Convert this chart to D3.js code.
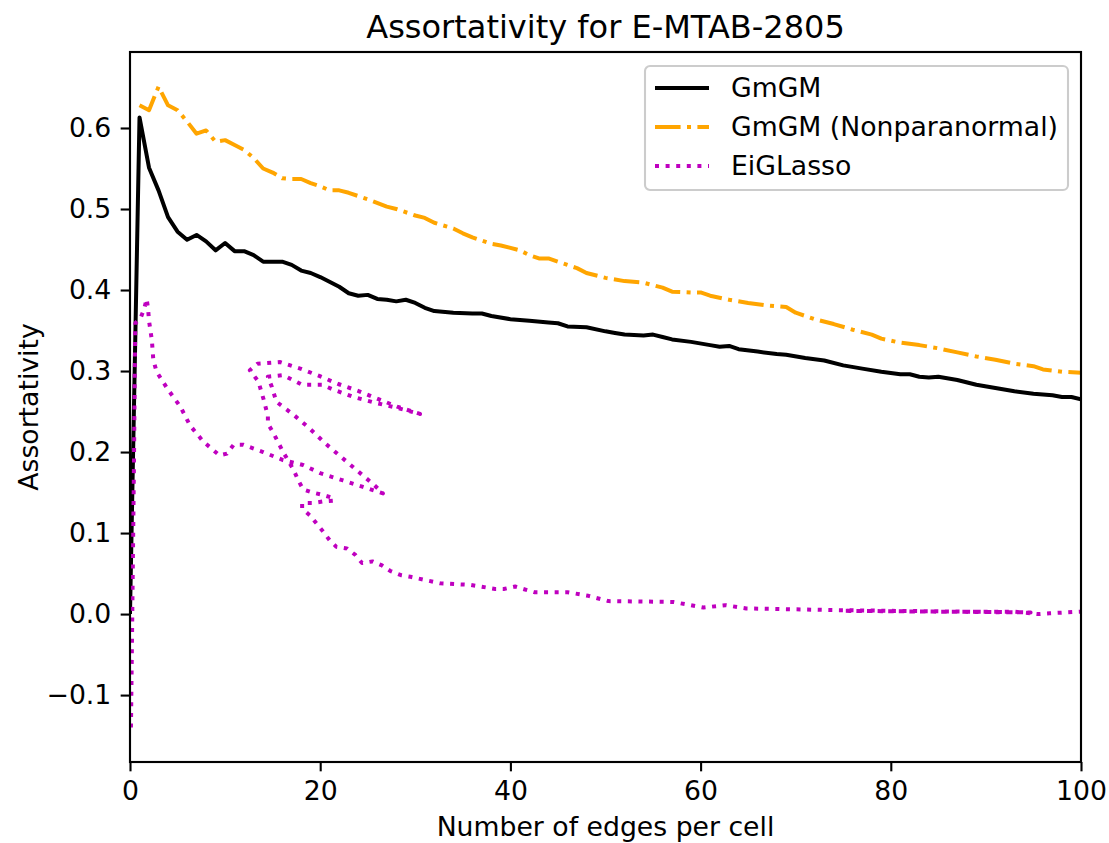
<!DOCTYPE html>
<html lang="en">
<head>
<meta charset="UTF-8">
<title>Assortativity for E-MTAB-2805</title>
<style>
  body { margin: 0; background: #fff; }
  svg text { font-family: "DejaVu Sans", sans-serif; fill: #000; }
  .axis path, .axis line { stroke: #000; stroke-width: 2.1; }
  .axis text { font-size: 26.7px; }
</style>
</head>
<body>
<script src="https://d3js.org/d3.v7.min.js"></script>
<script>
// GmGM
const gmgmX = [0, 1, 2, 3, 4, 5, 6, 7, 8, 9, 10, 11, 12, 13, 14, 16, 17, 18, 19, 20, 22, 23, 24, 25, 26, 27, 28, 29, 30, 31, 32, 34, 36, 37, 38, 40, 42, 44, 45, 46, 48, 50, 51, 52, 54, 55, 56, 57, 59, 61, 62, 63, 64, 66, 68, 69, 71, 73, 75, 77, 79, 81, 82, 83, 84, 85, 87, 89, 91, 93, 95, 97, 98, 99, 100];
const gmgmY = [0.0, 0.613, 0.551, 0.523, 0.490, 0.472, 0.462, 0.468, 0.460, 0.449, 0.458, 0.448, 0.448, 0.443, 0.435, 0.435, 0.431, 0.424, 0.421, 0.416, 0.404, 0.396, 0.393, 0.394, 0.389, 0.388, 0.386, 0.388, 0.384, 0.378, 0.374, 0.372, 0.371, 0.371, 0.368, 0.364, 0.362, 0.360, 0.359, 0.355, 0.354, 0.349, 0.347, 0.345, 0.344, 0.345, 0.342, 0.339, 0.336, 0.332, 0.330, 0.331, 0.327, 0.324, 0.321, 0.320, 0.316, 0.313, 0.307, 0.303, 0.299, 0.296, 0.296, 0.293, 0.292, 0.293, 0.289, 0.283, 0.279, 0.275, 0.272, 0.270, 0.268, 0.268, 0.265];

// GmGM (Nonparanormal)
const npnX = [1, 2, 3, 4, 5, 6, 7, 8, 9, 10, 11, 12, 13, 14, 15, 16, 17, 18, 19, 20, 21, 22, 23, 25, 27, 28, 30, 31, 32, 34, 35, 36, 38, 39, 41, 42, 43, 44, 45, 46, 47, 48, 50, 52, 54, 56, 57, 59, 60, 61, 63, 65, 67, 69, 70, 72, 74, 76, 78, 79, 81, 83, 85, 87, 89, 91, 93, 95, 96, 98, 100];
const npnY = [0.628, 0.622, 0.651, 0.628, 0.622, 0.608, 0.593, 0.597, 0.583, 0.585, 0.579, 0.573, 0.563, 0.550, 0.545, 0.538, 0.537, 0.537, 0.532, 0.528, 0.523, 0.523, 0.520, 0.512, 0.503, 0.500, 0.492, 0.489, 0.483, 0.476, 0.470, 0.465, 0.457, 0.455, 0.449, 0.443, 0.439, 0.439, 0.435, 0.431, 0.427, 0.421, 0.415, 0.411, 0.409, 0.403, 0.398, 0.397, 0.397, 0.393, 0.388, 0.384, 0.381, 0.379, 0.372, 0.364, 0.358, 0.351, 0.345, 0.340, 0.335, 0.332, 0.328, 0.323, 0.318, 0.314, 0.309, 0.306, 0.302, 0.299, 0.298];

// EiGLasso (x is not monotonic)
const eigX = [0.1, 0.24, 0.42, 0.55, 1.1, 1.5, 1.75, 1.9, 2.0, 2.3, 2.45, 2.8, 4.0, 5.3, 6.3, 7.7, 9.4, 10.2, 10.9, 11.9, 14.0, 16.1, 18.2, 20.0, 22.4, 24.5, 26.6,
  25.6, 23.9, 22.2, 20.5, 18.9, 17.2, 15.4, 14.9, 14.5, 16.1, 18.1, 20.2, 21.4, 23.5, 25.7, 27.9, 30.5,
  28.1, 26.2, 24.1, 21.9, 19.9, 17.9, 15.8, 13.4, 12.6, 13.5, 14.1, 14.5, 14.5, 15.1, 16.1, 17.2, 17.7, 18.2,
  19.2, 20.3, 21.4, 21.4, 20.3, 19.2, 18.1, 18.1, 18.9, 20.3, 21.0, 21.7, 22.8, 23.7, 24.4, 25.5, 26.5, 27.4, 28.5, 29.5,
  32.6, 35.8, 38.4, 39.3, 40.5, 42.5, 46, 48.2, 50.3, 57.1, 60.3, 62.6, 64.8, 73.7, 80, 88, 94.7, 75, 85, 93, 95.5, 96.7, 100];
const eigY = [-0.14, 0.0, 0.19, 0.359, 0.365, 0.377, 0.389, 0.377, 0.362, 0.338, 0.314, 0.299, 0.277, 0.256, 0.233, 0.213, 0.196, 0.198, 0.209, 0.209, 0.200, 0.190, 0.184, 0.174, 0.165, 0.157, 0.149,
  0.160, 0.177, 0.194, 0.211, 0.229, 0.246, 0.262, 0.281, 0.293, 0.295, 0.283, 0.283, 0.277, 0.268, 0.261, 0.255, 0.247,
  0.256, 0.265, 0.275, 0.284, 0.294, 0.303, 0.311, 0.309, 0.301, 0.287, 0.263, 0.244, 0.235, 0.223, 0.200, 0.178, 0.165, 0.154,
  0.150, 0.147, 0.143, 0.140, 0.139, 0.137, 0.137, 0.130, 0.122, 0.102, 0.091, 0.083, 0.081, 0.073, 0.063, 0.065, 0.060, 0.053, 0.048, 0.046,
  0.038, 0.036, 0.031, 0.031, 0.034, 0.027, 0.027, 0.0225, 0.016, 0.015, 0.008, 0.011, 0.007, 0.005, 0.004, 0.003, 0.002, 0.004, 0.003, 0.003, 0.0, 0.001, 0.003];

const xTicks = [0, 20, 40, 60, 80, 100];
const yTicks = [-0.1, 0.0, 0.1, 0.2, 0.3, 0.4, 0.5, 0.6];

const width = 1109;
const height = 843;
const margin = { left: 130, right: 28, top: 52, bottom: 81 };
const pt = 192 / 72;

const svg = d3.select('body').append('svg').attr('width', width).attr('height', height);

const x = d3.scaleLinear().domain([0, 100]).range([margin.left, width - margin.right]);
const y = d3.scaleLinear().domain([-0.1826, 0.6938]).range([height - margin.bottom, margin.top]);

svg.append('defs').append('clipPath').attr('id', 'plot')
  .append('rect')
  .attr('x', margin.left).attr('y', margin.top)
  .attr('width', width - margin.left - margin.right)
  .attr('height', height - margin.top - margin.bottom);

const series = [
  { name: 'GmGM', xs: gmgmX, ys: gmgmY, color: '#000000', dash: null },
  { name: 'GmGM (Nonparanormal)', xs: npnX, ys: npnY, color: '#ffa500', dash: [6.4, 1.6, 1, 1.6].map(d => d * 1.5 * pt).join(',') },
  { name: 'EiGLasso', xs: eigX, ys: eigY, color: '#bf00bf', dash: [1, 1.65].map(d => d * 1.5 * pt).join(',') }
];

const line = d3.line().x(d => x(d[0])).y(d => y(d[1]));

const plot = svg.append('g').attr('clip-path', 'url(#plot)');
series.forEach(s => {
  plot.append('path')
    .datum(s.xs.map((v, i) => [v, s.ys[i]]))
    .attr('d', line)
    .attr('fill', 'none')
    .attr('stroke', s.color)
    .attr('stroke-width', 1.5 * pt)
    .attr('stroke-linejoin', 'round')
    .attr('stroke-dasharray', s.dash);
});

// axes
const tickLen = 3.5 * pt;
const xAxis = svg.append('g').attr('class', 'axis')
  .attr('transform', 'translate(0,' + (height - margin.bottom) + ')')
  .call(d3.axisBottom(x).tickValues(xTicks).tickSize(tickLen).tickPadding(3.5 * pt).tickFormat(d3.format('d')));
xAxis.select('.domain').remove();
xAxis.selectAll('text').attr('dy', '0.71em');

const yAxis = svg.append('g').attr('class', 'axis')
  .attr('transform', 'translate(' + margin.left + ',0)')
  .call(d3.axisLeft(y).tickValues(yTicks).tickSize(tickLen).tickPadding(3.5 * pt)
    .tickFormat(d => d3.format('.1f')(d).replace('-', '\u2212')));
yAxis.select('.domain').remove();

// frame
svg.append('rect')
  .attr('x', margin.left).attr('y', margin.top)
  .attr('width', width - margin.left - margin.right)
  .attr('height', height - margin.top - margin.bottom)
  .attr('fill', 'none').attr('stroke', '#000').attr('stroke-width', 0.8 * pt);

// title and labels
svg.append('text')
  .attr('x', (margin.left + width - margin.right) / 2).attr('y', 38)
  .attr('text-anchor', 'middle').attr('font-size', 32)
  .text('Assortativity for E-MTAB-2805');

svg.append('text')
  .attr('x', (margin.left + width - margin.right) / 2).attr('y', 836)
  .attr('text-anchor', 'middle').attr('font-size', 26.7)
  .text('Number of edges per cell');

svg.append('text')
  .attr('transform', 'translate(38,' + ((margin.top + height - margin.bottom) / 2) + ') rotate(-90)')
  .attr('text-anchor', 'middle').attr('font-size', 26.7)
  .text('Assortativity');

// legend
const legend = svg.append('g').attr('transform', 'translate(645,66)');
legend.append('rect')
  .attr('width', 423).attr('height', 124).attr('rx', 5)
  .attr('fill', 'rgba(255,255,255,0.8)').attr('stroke', '#cccccc').attr('stroke-width', 2.1);
series.forEach((s, i) => {
  const ly = 22 + i * 39;
  legend.append('line')
    .attr('x1', 10).attr('x2', 64).attr('y1', ly).attr('y2', ly)
    .attr('stroke', s.color).attr('stroke-width', 1.5 * pt)
    .attr('stroke-dasharray', s.dash);
  legend.append('text')
    .attr('x', 86).attr('y', ly).attr('dy', '0.35em')
    .attr('font-size', 26.7)
    .text(s.name);
});
</script>
</body>
</html>
